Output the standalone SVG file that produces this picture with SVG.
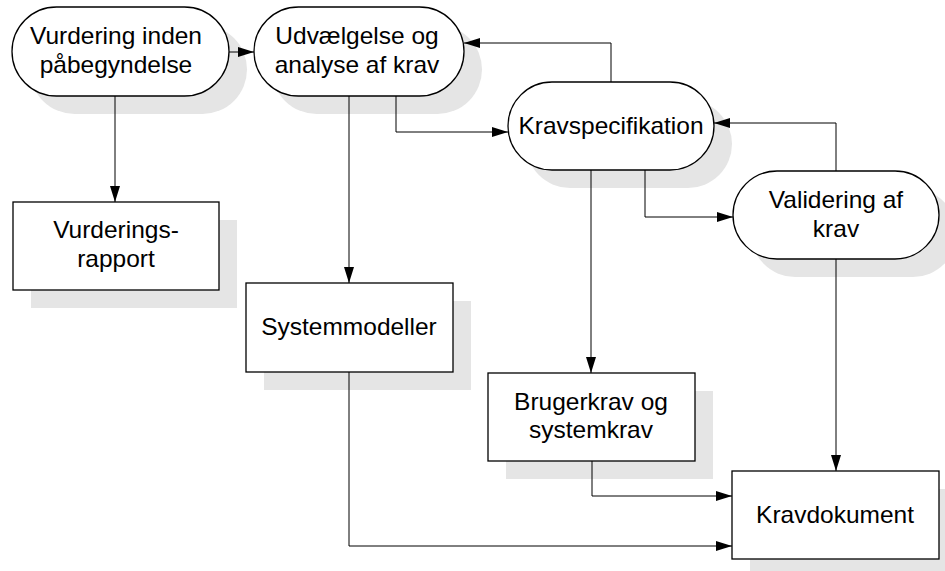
<svg xmlns="http://www.w3.org/2000/svg" width="945" height="571" viewBox="0 0 945 571">
  <style>
    .shadow { fill: #e5e5e5; stroke: none; }
    .shape { fill: #ffffff; stroke: #000000; stroke-width: 1.3; }
    .label { font-family: "Liberation Sans", Arial, sans-serif; font-size: 23px; fill: #000000; text-anchor: middle; }
    .edge { fill: none; stroke: #000000; stroke-width: 1; marker-end: url(#arrow); }
  </style>
  <defs>
    <marker id="arrow" markerUnits="userSpaceOnUse" markerWidth="17" markerHeight="11" refX="16" refY="5" orient="auto">
      <path d="M0,0 L16,5 L0,10 Z" fill="#000000"/>
    </marker>
  </defs>
  <rect width="945" height="571" fill="#ffffff"/>

  <!-- activities (rounded); labels are set slightly wide with a horizontal scale -->
  <g id="vurdering">
    <rect class="shadow" x="30" y="25" width="217" height="89" rx="44.5"/>
    <rect class="shape" x="12" y="7" width="217" height="89" rx="44.5"/>
    <text class="label" transform="translate(116,43.5) scale(1.065,1)">Vurdering inden</text>
    <text class="label" transform="translate(116,72.5) scale(1.065,1)">påbegyndelse</text>
  </g>
  <g id="udvaelgelse">
    <rect class="shadow" x="272" y="25" width="210" height="89" rx="44.5"/>
    <rect class="shape" x="254" y="7" width="210" height="89" rx="44.5"/>
    <text class="label" transform="translate(357,43.5) scale(1.065,1)">Udvælgelse og</text>
    <text class="label" transform="translate(357,72.5) scale(1.065,1)">analyse af krav</text>
  </g>
  <g id="kravspecifikation">
    <rect class="shadow" x="526" y="100" width="206" height="88" rx="44"/>
    <rect class="shape" x="508" y="82" width="206" height="88" rx="44"/>
    <text class="label" transform="translate(611,133.5) scale(1.065,1)">Kravspecifikation</text>
  </g>
  <g id="validering">
    <rect class="shadow" x="751" y="189" width="206" height="88" rx="44"/>
    <rect class="shape" x="733" y="171" width="206" height="88" rx="44"/>
    <text class="label" transform="translate(836,207.5) scale(1.065,1)">Validering af</text>
    <text class="label" transform="translate(836,236.5) scale(1.065,1)">krav</text>
  </g>

  <!-- documents (rectangles) -->
  <g id="vurderingsrapport">
    <rect class="shadow" x="31" y="220" width="206" height="88"/>
    <rect class="shape" x="13" y="202" width="206" height="88"/>
    <text class="label" transform="translate(116,238) scale(1.065,1)">Vurderings-</text>
    <text class="label" transform="translate(116,267) scale(1.065,1)">rapport</text>
  </g>
  <g id="systemmodeller">
    <rect class="shadow" x="264" y="301" width="207" height="89"/>
    <rect class="shape" x="246" y="283" width="207" height="89"/>
    <text class="label" transform="translate(349,335) scale(1.065,1)">Systemmodeller</text>
  </g>
  <g id="brugerkrav">
    <rect class="shadow" x="506" y="391" width="207" height="88"/>
    <rect class="shape" x="488" y="373" width="207" height="88"/>
    <text class="label" transform="translate(591,409.5) scale(1.065,1)">Brugerkrav og</text>
    <text class="label" transform="translate(591,438) scale(1.065,1)">systemkrav</text>
  </g>
  <g id="kravdokument">
    <rect class="shadow" x="750" y="489" width="207" height="88"/>
    <rect class="shape" x="732" y="471" width="207" height="88"/>
    <text class="label" transform="translate(835,522.5) scale(1.065,1)">Kravdokument</text>
  </g>

  <!-- connectors -->
  <g id="connectors">
    <path class="edge" d="M229,52 L254,52"/>
    <path class="edge" d="M115,96 L115,202"/>
    <path class="edge" d="M349,96 L349,283"/>
    <path class="edge" d="M396,96 L396,132 L508,132"/>
    <path class="edge" d="M611,82 L611,43 L464,43"/>
    <path class="edge" d="M645,170 L645,217 L733,217"/>
    <path class="edge" d="M836,171 L836,123 L714,123"/>
    <path class="edge" d="M591,170 L591,373"/>
    <path class="edge" d="M836,259 L836,471"/>
    <path class="edge" d="M592,461 L592,496 L732,496"/>
    <path class="edge" d="M349,372 L349,546 L732,546"/>
  </g>
</svg>
